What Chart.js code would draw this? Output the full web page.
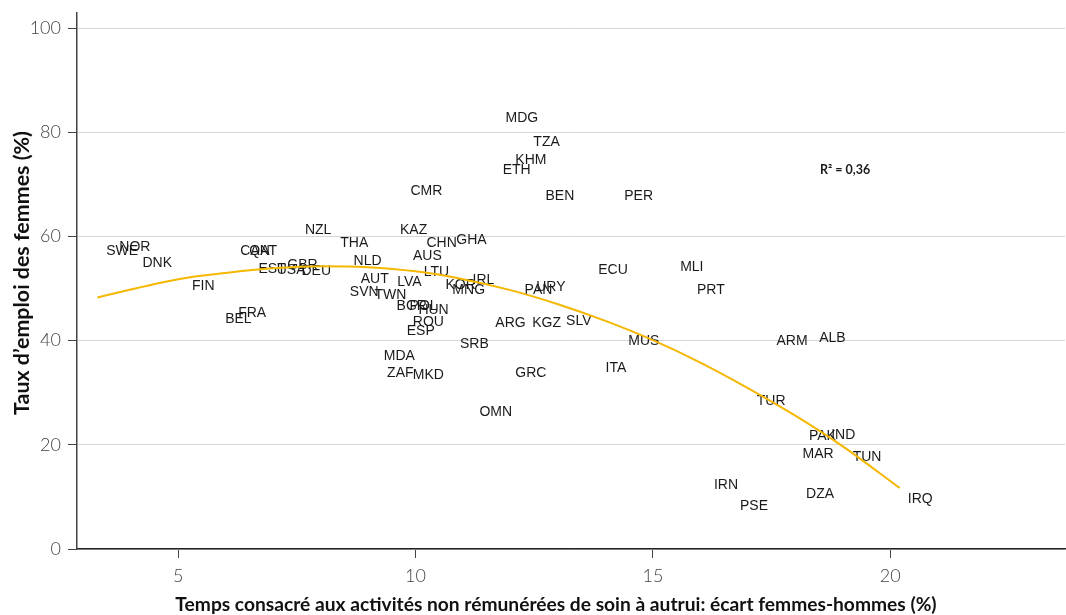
<!DOCTYPE html>
<html>
<head>
<meta charset="utf-8">
<script src="https://cdn.jsdelivr.net/npm/chart.js@4/dist/chart.umd.min.js"></script>
<style>
html,body{margin:0;padding:0;background:#fff;}
#wrap{width:1066px;height:615px;}
</style>
</head>
<body>
<div id="wrap"><canvas id="c" width="1066" height="615"></canvas></div>
<script>
// Country codes
const countries = ["SWE","NOR","DNK","FIN","BEL","FRA","CAN","QAT","EST","USA","GBR","DEU","NZL","THA","NLD","AUT","SVN","TWN","LVA","KAZ","AUS","CHN","GHA","LTU","BGR","POL","HUN","ROU","ESP","MDA","ZAF","MKD","KOR","MNG","IRL","SRB","ARG","KGZ","SLV","GRC","OMN","PAN","URY","ECU","MLI","PRT","MUS","ITA","MDG","TZA","KHM","ETH","BEN","PER","CMR","TUR","ARM","ALB","PAK","IND","MAR","TUN","IRN","PSE","DZA","IRQ"];
// Gender gap in unpaid care time (%)
const careGap = [3.82,4.09,4.56,5.53,6.27,6.56,6.62,6.79,6.98,7.38,7.62,7.91,7.95,8.71,8.99,9.14,8.92,9.47,9.87,9.96,10.25,10.55,11.18,10.44,9.92,10.17,10.38,10.27,10.11,9.66,9.68,10.27,10.95,11.12,11.43,11.24,12.0,12.76,13.44,12.43,11.69,12.59,12.85,14.16,15.82,16.22,14.81,14.22,12.24,12.76,12.43,12.13,13.04,14.70,10.23,17.49,17.93,18.78,18.57,19.01,18.48,19.51,16.54,17.13,18.52,20.63];
// Female employment rate (%)
const femaleEmployment = [57.1,57.9,54.8,50.4,44.2,45.2,57.1,57.1,53.7,53.5,54.4,53.3,61.3,58.8,55.2,51.9,49.4,48.7,51.3,61.3,56.2,58.8,59.2,53.1,46.7,46.7,45.8,43.5,41.9,37.1,33.8,33.3,50.6,49.6,51.7,39.4,43.3,43.3,43.8,33.7,26.2,49.6,50.2,53.5,54.2,49.6,40.0,34.8,82.7,78.1,74.6,72.7,67.7,67.7,68.7,28.3,40.0,40.4,21.7,21.9,18.3,17.7,12.3,8.3,10.6,9.6];
// Fitted trend curve
const trendX = [3.3,5,6,7,8,9,10,11,12,13,14,15,16,17,18,19,20.2];
const trendY = [48.3,51.8,53.0,53.9,54.3,54.1,53.3,51.8,49.7,47.0,43.8,40.1,35.8,30.9,25.6,19.7,11.7];
// Ticks
const xTicks = [5,10,15,20];
const yTicks = [0,20,40,60,80,100];
const r2Label = "R\u00B2 = 0,36";
const xTitle = "Temps consacr\u00E9 aux activit\u00E9s non r\u00E9mun\u00E9r\u00E9es de soin \u00E0 autrui: \u00E9cart femmes-hommes (%)";
const yTitle = "Taux d\u2019emploi des femmes (%)";

const points = careGap.map((x,i)=>({x:x, y:femaleEmployment[i], label:countries[i]}));
const trend = trendX.map((x,i)=>({x:x, y:trendY[i]}));

function fitFont(ctx, text, width){
  ctx.font = 'bold 16px Lato, "Open Sans", sans-serif';
  const w = ctx.measureText(text).width;
  const size = 16 * width / w;
  ctx.font = 'bold ' + size.toFixed(2) + 'px Lato, "Open Sans", sans-serif';
}

const labelPlugin = {
  id:'labels',
  beforeDatasetsDraw(chart){
    const ctx = chart.ctx, xs = chart.scales.x, ys = chart.scales.y;
    ctx.save();
    ctx.font = '14px "Liberation Sans", Arial, sans-serif';
    ctx.fillStyle = '#1a1a1a';
    ctx.textAlign = 'center';
    ctx.textBaseline = 'middle';
    points.forEach(p=>{
      ctx.fillText(p.label, xs.getPixelForValue(p.x), ys.getPixelForValue(p.y));
    });
    // R² annotation
    ctx.font = 'bold 12.5px Lato, "Open Sans", sans-serif';
    ctx.fillStyle = '#1a1a1a';
    ctx.fillText(r2Label, xs.getPixelForValue(19.05), ys.getPixelForValue(72.7));
    ctx.restore();
  },
  afterDraw(chart){
    const ctx = chart.ctx;
    ctx.save();
    ctx.fillStyle = '#111';
    ctx.textAlign = 'center';
    ctx.textBaseline = 'middle';
    fitFont(ctx, xTitle, 762);
    ctx.fillText(xTitle, 556, 605);
    fitFont(ctx, yTitle, 284);
    ctx.translate(22, 273);
    ctx.rotate(-Math.PI/2);
    ctx.fillText(yTitle, 0, 0);
    ctx.restore();
  }
};

const tickFont = {family:'Lato, "Open Sans", sans-serif', size:18, weight:300};

new Chart(document.getElementById('c'), {
  type:'scatter',
  data:{
    datasets:[
      {label:'Pays', data:points, pointRadius:0, pointHoverRadius:0, showLine:false},
      {type:'line', label:'Tendance', data:trend, borderColor:'#F5B700', borderWidth:2, pointRadius:0, fill:false, tension:0.4, cubicInterpolationMode:'monotone'}
    ]
  },
  options:{
    responsive:false,
    animation:false,
    events:[],
    layout:{padding:{top:13,right:1,left:0,bottom:0}},
    plugins:{legend:{display:false}, tooltip:{enabled:false}},
    scales:{
      x:{
        type:'linear', min:2.87, max:23.68,
        afterBuildTicks(s){ s.ticks = xTicks.map(v=>({value:v})); },
        afterFit(s){ s.height = 66; s.paddingLeft = 0; s.paddingRight = 0; },
        grid:{drawOnChartArea:false, tickLength:9, tickColor:'#444', tickWidth:1},
        border:{color:'#222', width:1.5},
        ticks:{font:tickFont, color:'#444', padding:7, maxRotation:0}
      },
      y:{
        type:'linear', min:0, max:102.9,
        afterBuildTicks(s){ s.ticks = yTicks.map(v=>({value:v})); },
        afterFit(s){ s.width = 77; s.paddingTop = 0; s.paddingBottom = 0; },
        grid:{color:'#d6d6d6', lineWidth:1, tickLength:9, tickColor:'#444'},
        border:{color:'#444', width:1.5},
        ticks:{font:tickFont, color:'#444', padding:7}
      }
    }
  },
  plugins:[labelPlugin]
});
</script>
</body>
</html>
